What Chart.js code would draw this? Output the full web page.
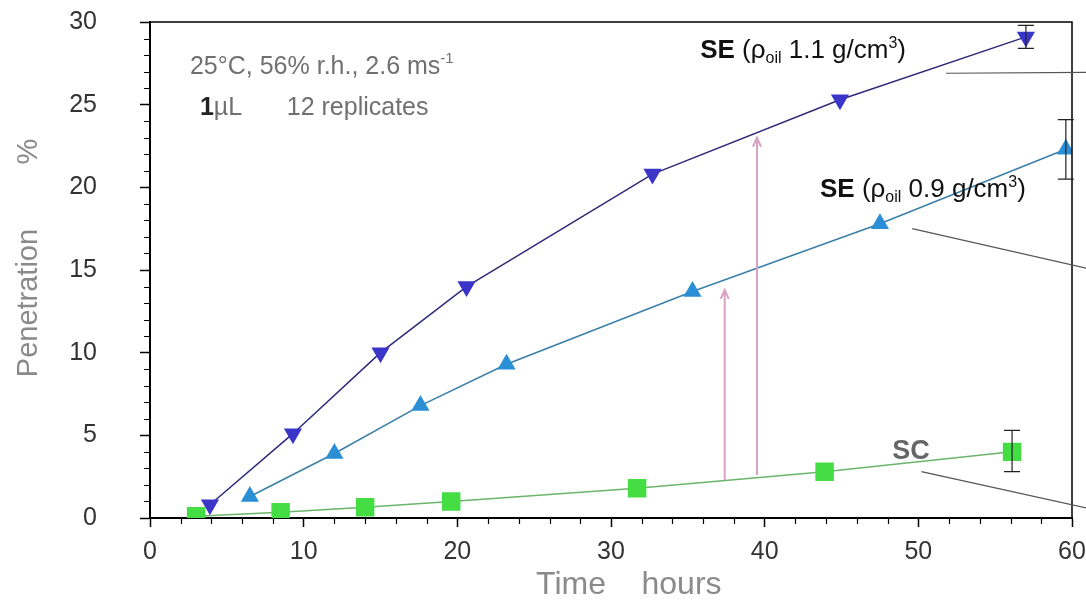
<!DOCTYPE html>
<html>
<head>
<meta charset="utf-8">
<script src="https://cdn.jsdelivr.net/npm/chart.js@4.4.0/dist/chart.umd.min.js"></script>
<style>
  html, body { margin: 0; padding: 0; background: #fff; }
  #wrap { width: 1086px; height: 606px; }
</style>
</head>
<body>
<div id="wrap"><canvas id="penChart"></canvas></div>
<script>
// SE, oil density 1.1 g/cm3
const seHeavyTime = [3.9, 9.3, 15.0, 20.6, 32.7, 44.9, 57.0];
const seHeavyPen  = [0.8, 5.1, 10.0, 14.0, 20.8, 25.3, 29.1];
// SE, oil density 0.9 g/cm3
const seLightTime = [6.5, 12.0, 17.6, 23.2, 35.3, 47.5, 59.6];
const seLightPen  = [1.3, 3.9, 6.8, 9.3, 13.7, 17.8, 22.3];
// SC
const scTime = [3.0, 8.5, 14.0, 19.6, 31.7, 43.9, 56.1];
const scPen  = [0.1, 0.35, 0.65, 1.0, 1.8, 2.8, 4.0];

// error bars on the last point only: [time, low, high]
const seHeavyErr = [57.0, 28.4, 29.8];
const seLightErr = [59.6, 20.5, 24.1];
const scErr      = [56.1, 2.8, 5.3];

// pink arrows: [time, from, to]
const arrows = [[37.4, 2.3, 13.8], [39.5, 2.6, 23.0]];

const toPoints = (xs, ys) => xs.map((x, i) => ({ x: x, y: ys[i] }));

const FONT = '"Liberation Sans", Arial, Helvetica, sans-serif';

// minor ticks, frame, error bars, arrows, leader lines, text
const extras = {
  id: 'extras',
  afterDraw(chart) {
    const { ctx, chartArea: a, scales: { x, y } } = chart;
    ctx.save();

    // minor ticks
    ctx.strokeStyle = '#000';
    ctx.lineWidth = 1.2;
    ctx.beginPath();
    for (let v = 1; v < 30; v++) {
      if (v % 5 === 0) continue;
      const py = Math.round(y.getPixelForValue(v)) + 0.5;
      ctx.moveTo(a.left - 6, py); ctx.lineTo(a.left, py);
    }
    for (let v = 2; v < 60; v += 2) {
      if (v % 10 === 0) continue;
      const px = Math.round(x.getPixelForValue(v)) + 0.5;
      ctx.moveTo(px, a.bottom); ctx.lineTo(px, a.bottom + 6);
    }
    ctx.stroke();

    // top and right frame
    ctx.lineWidth = 1.5;
    ctx.beginPath();
    ctx.moveTo(a.left, a.top); ctx.lineTo(a.right, a.top); ctx.lineTo(a.right, a.bottom);
    ctx.stroke();

    // leader lines (run off to the right)
    ctx.strokeStyle = '#555';
    ctx.lineWidth = 1.2;
    const leader = (x0, y0, x1, y1) => {
      ctx.beginPath();
      ctx.moveTo(x.getPixelForValue(x0), y.getPixelForValue(y0));
      ctx.lineTo(x.getPixelForValue(x1), y.getPixelForValue(y1));
      ctx.stroke();
    };
    leader(51.8, 26.9, 61, 26.95);
    leader(49.6, 17.5, 61, 15.1);
    leader(50.2, 2.8, 61, 0.6);

    // pink arrows
    ctx.strokeStyle = '#d8a2c2';
    ctx.lineWidth = 2;
    arrows.forEach(([t, y0, y1]) => {
      const px = x.getPixelForValue(t);
      const pTop = y.getPixelForValue(y1);
      ctx.beginPath();
      ctx.moveTo(px, y.getPixelForValue(y0));
      ctx.lineTo(px, pTop);
      ctx.moveTo(px - 4, pTop + 9); ctx.lineTo(px, pTop); ctx.lineTo(px + 4, pTop + 9);
      ctx.stroke();
    });

    // error bars
    ctx.strokeStyle = '#222';
    ctx.lineWidth = 1.2;
    [seHeavyErr, seLightErr, scErr].forEach(([t, lo, hi]) => {
      const px = x.getPixelForValue(t);
      const pl = y.getPixelForValue(lo), ph = y.getPixelForValue(hi);
      ctx.beginPath();
      ctx.moveTo(px, pl); ctx.lineTo(px, ph);
      ctx.moveTo(px - 8, pl); ctx.lineTo(px + 8, pl);
      ctx.moveTo(px - 8, ph); ctx.lineTo(px + 8, ph);
      ctx.stroke();
    });

    // text
    const rich = (tx, ty, parts, color) => {
      let px = x.getPixelForValue(tx);
      const py = y.getPixelForValue(ty);
      ctx.fillStyle = color;
      ctx.textBaseline = 'alphabetic';
      ctx.textAlign = 'left';
      parts.forEach(p => {
        ctx.font = (p.b ? 'bold ' : '') + (p.s || 25) + 'px ' + FONT;
        ctx.fillText(p.t, px, py + (p.dy || 0));
        px += ctx.measureText(p.t).width;
      });
    };
    rich(2.6, 26.85, [{ t: '25°C, 56% r.h., 2.6 ms', s: 25 }, { t: '-1', s: 15, dy: -11 }], '#707070');
    rich(3.25, 24.4, [{ t: '1', b: true, s: 25 }], '#222');
    rich(4.15, 24.4, [{ t: 'µL', s: 25 }], '#707070');
    rich(8.9, 24.4, [{ t: '12 replicates', s: 25 }], '#707070');

    const seLabel = dens => [
      { t: 'SE', b: true, s: 26 }, { t: ' (ρ', s: 26 }, { t: 'oil', s: 16, dy: 5 },
      { t: ' ' + dens + ' g/cm', s: 26 }, { t: '3', s: 16, dy: -10 }, { t: ')', s: 26 }
    ];
    rich(35.8, 27.8, seLabel('1.1'), '#111');
    rich(43.6, 19.4, seLabel('0.9'), '#111');
    rich(48.3, 3.57, [{ t: 'SC', b: true, s: 27 }], '#666');

    ctx.restore();
  }
};

new Chart(document.getElementById('penChart'), {
  type: 'scatter',
  data: {
    datasets: [
      {
        label: 'SE 1.1',
        data: toPoints(seHeavyTime, seHeavyPen),
        showLine: true,
        borderColor: '#2e2a78',
        borderWidth: 1.5,
        backgroundColor: '#3b36c9',
        pointBackgroundColor: '#3b36c9',
        pointBorderColor: '#3b36c9',
        pointStyle: 'triangle',
        pointRotation: 180,
        pointRadius: 9
      },
      {
        label: 'SE 0.9',
        data: toPoints(seLightTime, seLightPen),
        showLine: true,
        borderColor: '#3a7fa8',
        borderWidth: 1.5,
        backgroundColor: '#2b8fd6',
        pointBackgroundColor: '#2b8fd6',
        pointBorderColor: '#2b8fd6',
        pointStyle: 'triangle',
        pointRadius: 9
      },
      {
        label: 'SC',
        data: toPoints(scTime, scPen),
        showLine: true,
        borderColor: '#6bb56b',
        borderWidth: 1.5,
        backgroundColor: '#44dd44',
        pointBackgroundColor: '#44dd44',
        pointBorderColor: '#44dd44',
        pointStyle: 'rect',
        pointRadius: 12
      }
    ]
  },
  options: {
    responsive: true,
    maintainAspectRatio: false,
    animation: false,
    layout: { padding: { top: 22, right: 14, left: 0, bottom: 0 } },
    plugins: {
      legend: { display: false },
      tooltip: { enabled: false }
    },
    scales: {
      x: {
        type: 'linear',
        min: 0, max: 60,
        afterFit: s => { s.height = 88; s.paddingLeft = 0; s.paddingRight = 0; },
        ticks: {
          stepSize: 10,
          padding: 10,
          color: '#333',
          font: { family: FONT, size: 25 }
        },
        grid: { drawOnChartArea: false, tickLength: 9, tickColor: '#000', tickWidth: 1.5 },
        border: { color: '#000', width: 2 },
        title: {
          display: true,
          text: '    Time    hours',
          color: '#8a8a8a',
          font: { family: FONT, size: 32 },
          padding: { top: 0, bottom: 2 }
        }
      },
      y: {
        min: 0, max: 30,
        afterFit: s => { s.width = 150; s.paddingTop = 0; s.paddingBottom = 0; },
        ticks: {
          stepSize: 5,
          padding: 43,
          color: '#333',
          font: { family: FONT, size: 25 }
        },
        grid: { drawOnChartArea: false, tickLength: 10, tickColor: '#000', tickWidth: 1.5 },
        border: { color: '#000', width: 2 },
        title: {
          display: true,
          text: '   Penetration        %',
          color: '#8a8a8a',
          font: { family: FONT, size: 29 },
          padding: { top: 12, bottom: 0 }
        }
      }
    }
  },
  plugins: [extras]
});
</script>
</body>
</html>
